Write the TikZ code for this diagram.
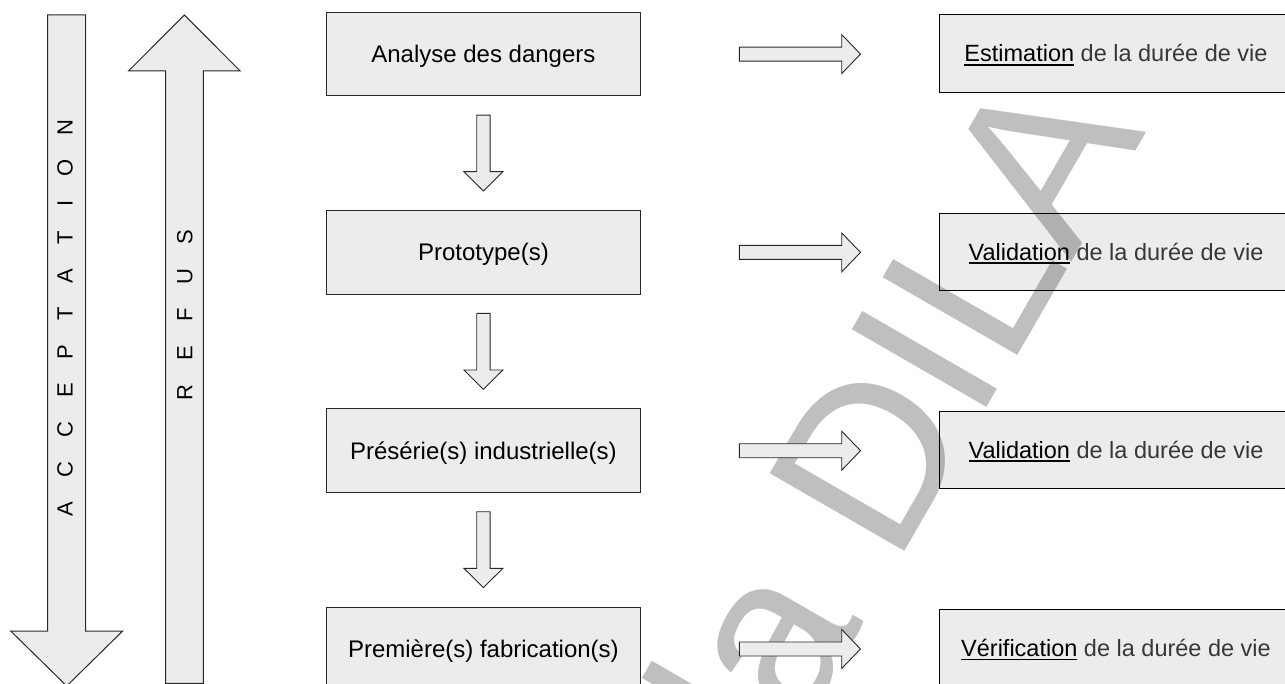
\documentclass[tikz,border=0pt]{standalone}
\usepackage{fontspec}
\setmainfont{Liberation Sans}
\usetikzlibrary{calc}
\definecolor{panel}{RGB}{236,236,236}
\definecolor{edge}{RGB}{40,40,40}
\definecolor{softtext}{RGB}{55,55,55}
% underlined key word, the rule does not change the line's depth
\newsavebox\ulwordbox
\newcommand\ulword[1]{\sbox\ulwordbox{#1}\rlap{\raisebox{-3.6pt}[0pt][0pt]{\rule{\wd\ulwordbox}{1.7pt}}}\usebox\ulwordbox}
% wide letter spacing for the vertical captions
\newcommand\lgap{\hspace{24pt}}
% hollow block arrow pointing down, from one stage box to the next
\newcommand\downblock[2]{%
  \draw[blockarrow] let \p1=($(#1.south)+(0,18.6)$), \p2=($(#2.north)+(0,-19)$) in
    (\x1-6.65pt,\y1) -- (\x1+6.65pt,\y1) -- (\x1+6.65pt,\y2+19.3pt) -- (\x1+19.5pt,\y2+19.3pt)
    -- (\x1,\y2) -- (\x1-19.5pt,\y2+19.3pt) -- (\x1-6.65pt,\y2+19.3pt) -- cycle;}
% hollow block arrow pointing right, from a stage box to its check box
\newcommand\rightblock[2]{%
  \draw[blockarrow] let \p1=($(#1.east)+(98.3,0)$), \p2=($(#2.west)+(-78,0)$) in
    (\x1,\y1+7pt) -- (\x2-18.8pt,\y1+7pt) -- (\x2-18.8pt,\y1+19.5pt) -- (\x2,\y1)
    -- (\x2-18.8pt,\y1-19.5pt) -- (\x2-18.8pt,\y1-7pt) -- (\x1,\y1-7pt) -- cycle;}
\begin{document}
\begin{tikzpicture}[x=1pt,y=-1pt,
  stage/.style={draw=edge, line width=1.1pt, fill=panel, anchor=north west,
    minimum width=314.3pt, minimum height=83.7pt, inner sep=0pt,
    text height=17.2pt, text depth=0pt, font=\fontsize{24}{29}\selectfont},
  check/.style={draw=black, line width=1pt, fill=panel, anchor=west,
    minimum width=354pt, minimum height=77.4pt, inner sep=0pt,
    text height=16.8pt, text depth=0pt, font=\fontsize{23.5}{28}\selectfont},
  blockarrow/.style={draw=edge, line width=0.9pt, fill=panel, line join=miter},
  bigarrow/.style={draw=edge, line width=1pt, fill=panel, line join=miter},
  spaced/.style={rotate=90, anchor=base, inner sep=0pt, font=\fontsize{22}{26}\selectfont},
  watermark/.style={rotate=60, anchor=base east, inner sep=0pt, opacity=0.25,
    font=\fontsize{226}{226}\selectfont}]

\useasboundingbox (0,0) rectangle (1285,684);
\clip (0,0) rectangle (1285,684);

% the two long arrows on the left
\draw[bigarrow] (47.7,15) -- (85.7,15) -- (85.7,631) -- (122.7,631) -- (66.7,686)
  -- (10.7,631) -- (47.7,631) -- cycle;
\node[spaced] (acc) at (72.7,318)
  {A\lgap C\lgap C\lgap E\lgap P\lgap T\lgap A\lgap T\lgap I\lgap O\lgap N};
\draw[bigarrow] (184.4,15) -- (240.2,71) -- (203.3,71) -- (203.3,683.3)
  -- (165.7,683.3) -- (165.7,71) -- (128.5,71) -- cycle;
\node[spaced] (ref) at (192.3,315) {R\lgap E\lgap F\lgap U\lgap S};

% stages of the product
\node[stage] (s1) at (325.7,11.7)  {Analyse des dangers};
\node[stage] (s2) at (325.7,210)   {Prototype(s)};
\node[stage] (s3) at (325.7,408.3) {Présérie(s) industrielle(s)};
\node[stage] (s4) at (325.7,606.6) {Première(s) fabrication(s)};

% what is done with the service life at each stage
\node[check] (v1) at (938.5,53.55)  {\ulword{Estimation} {\color{softtext}de la durée de vie}};
\node[check] (v2) at (938.5,251.85) {\ulword{Validation} {\color{softtext}de la durée de vie}};
\node[check] (v3) at (938.5,450.15) {\ulword{Validation} {\color{softtext}de la durée de vie}};
\node[check] (v4) at (938.5,648.45) {\ulword{Vérification} {\color{softtext}de la durée de vie}};

% translucent stamp across the page
\node[watermark] (wm) at (1146.7,131.5) {la DILA};

% block arrows
\downblock{s1}{s2}
\downblock{s2}{s3}
\downblock{s3}{s4}
\rightblock{s1}{v1}
\rightblock{s2}{v2}
\rightblock{s3}{v3}
\rightblock{s4}{v4}
\end{tikzpicture}
\end{document}
